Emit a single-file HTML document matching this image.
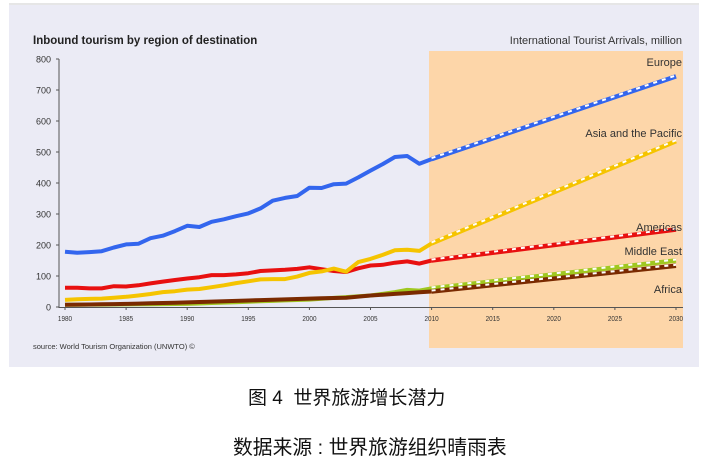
<!DOCTYPE html><html><head><meta charset="utf-8"><style>
body{margin:0;width:721px;height:467px;background:#fff;overflow:hidden;font-family:"Liberation Sans",sans-serif}
.cap{position:absolute;white-space:nowrap;font-family:"Liberation Sans","Noto Sans CJK SC",sans-serif;color:#111}
</style></head><body>
<svg id="s" width="721" height="467" style="position:absolute;left:0;top:0">
<rect x="0" y="0" width="721" height="467" fill="#fff"/>
<line x1="9" y1="4" x2="699" y2="4" stroke="#ccc"/>
<rect x="9" y="5" width="690" height="362" fill="#ebebf5"/>
<rect x="429" y="51" width="254" height="297" fill="#fdd6a9"/>
<text x="33" y="44" font-size="11.5" font-weight="bold" fill="#222">Inbound tourism by region of destination</text>
<text x="682" y="44" font-size="11" fill="#333" text-anchor="end">International Tourist Arrivals, million</text>
<g id="ax"></g><g id="ln"></g>
<text x="682" y="66" font-size="11" fill="#333" text-anchor="end">Europe</text>
<text x="682" y="137" font-size="11" fill="#333" text-anchor="end">Asia and the Pacific</text>
<text x="682" y="231" font-size="11" fill="#333" text-anchor="end">Americas</text>
<text x="682" y="255" font-size="11" fill="#333" text-anchor="end">Middle East</text>
<text x="682" y="293" font-size="11" fill="#333" text-anchor="end">Africa</text>
<text x="33" y="349" font-size="7.5" fill="#333">source: World Tourism Organization (UNWTO) ©</text>
</svg>
<div class="cap" style="left:248px;top:383px;font-size:19px">图 4&nbsp; 世界旅游增长潜力</div>
<div class="cap" style="left:233px;top:431px;font-size:19.8px">数据来源 : 世界旅游组织晴雨表</div>
<script>
const X=y=>65+(y-1980)*12.22, Y=v=>307-v*0.31;
let ax='<line x1="59" y1="59" x2="59" y2="308" stroke="#555"/><line x1="59" y1="307.5" x2="683" y2="307.5" stroke="#555"/>';
for(let v=0;v<=800;v+=100){ax+=`<line x1="56" x2="59" y1="${Y(v)}" y2="${Y(v)}" stroke="#555"/><text x="51" y="${Y(v)+3.5}" font-size="9" fill="#333" text-anchor="end">${v}</text>`;}
for(let y=1980;y<=2030;y+=5){ax+=`<line x1="${X(y)}" x2="${X(y)}" y1="307" y2="310" stroke="#555"/><text x="${X(y)}" y="321" font-size="7.5" fill="#333" text-anchor="middle" transform="scale(0.85,1) translate(${X(y)*0.1765},0)">${y}</text>`;}
document.getElementById('ax').innerHTML=ax;
function interp(pts){let o=[];for(let i=0;i<pts.length-1;i++){let[a,va]=pts[i],[b,vb]=pts[i+1];for(let y=a;y<b;y++)o.push([y,va+(vb-va)*(y-a)/(b-a)]);}o.push(pts[pts.length-1]);return o;}
const S=[
['#a0c820',interp([[1980,7],[1990,10],[2000,24],[2005,37],[2007,48],[2008,55],[2009,53],[2010,60]]),[[2010,60],[2030,150]]],
['#7a2a00',interp([[1980,7],[1985,10],[1990,15],[2000,27],[2003,30],[2005,37],[2010,50]]),[[2010,50],[2030,133]]],
['#e81010',[[1980,62],[1981,62],[1982,60],[1983,60],[1984,67],[1985,66],[1986,70],[1987,76],[1988,82],[1989,87],[1990,92],[1991,96],[1992,103],[1993,103],[1994,105],[1995,109],[1996,116],[1997,118],[1998,120],[1999,123],[2000,128],[2001,122],[2002,116],[2003,113],[2004,125],[2005,134],[2006,136],[2007,143],[2008,147],[2009,140],[2010,150]],[[2010,150],[2030,250]]],
['#f5c400',[[1980,23],[1981,25],[1982,26],[1983,27],[1984,30],[1985,33],[1986,37],[1987,42],[1988,48],[1989,51],[1990,56],[1991,58],[1992,64],[1993,70],[1994,77],[1995,83],[1996,89],[1997,90],[1998,90],[1999,98],[2000,110],[2001,115],[2002,124],[2003,114],[2004,145],[2005,155],[2006,168],[2007,183],[2008,185],[2009,181],[2010,205]],[[2010,205],[2030,535]]],
['#3366ee',[[1980,178],[1981,175],[1982,177],[1983,180],[1984,192],[1985,202],[1986,204],[1987,222],[1988,230],[1989,245],[1990,262],[1991,258],[1992,275],[1993,283],[1994,293],[1995,302],[1996,318],[1997,343],[1998,352],[1999,358],[2000,385],[2001,384],[2002,396],[2003,398],[2004,418],[2005,440],[2006,461],[2007,484],[2008,487],[2009,462],[2010,477]],[[2010,477],[2030,744]]]];
let h='';
for(const[c,a,b]of S){const p=a.map(([y,v])=>X(y).toFixed(1)+','+Y(v).toFixed(1)).join(' ');const q=b.map(([y,v])=>X(y).toFixed(1)+','+Y(v).toFixed(1)).join(' ');
h+=`<polyline points="${p}" fill="none" stroke="${c}" stroke-width="4" stroke-linejoin="round"/>`;
h+=`<polyline points="${q}" fill="none" stroke="${c}" stroke-width="4.5"/><polyline points="${q}" fill="none" stroke="#fff" stroke-width="2" stroke-dasharray="4 5" transform="translate(0,-1)"/>`;}
document.getElementById('ln').innerHTML=h;
</script>
</body></html>
